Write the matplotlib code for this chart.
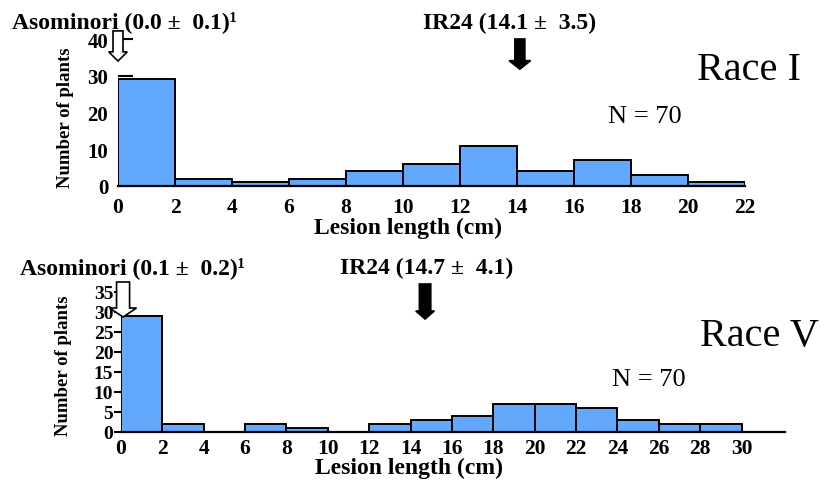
import matplotlib
matplotlib.use("Agg")
import matplotlib.pyplot as plt
from matplotlib.patches import FancyArrow

plt.rcParams['font.family'] = ['Liberation Serif', 'DejaVu Serif']

# 病斑長のヒストグラム (2 cm 幅)
bin_width = 2
race1_counts = [29, 2, 1, 2, 4, 6, 11, 4, 7, 3, 1]
race5_counts = [29, 2, 0, 2, 1, 0, 2, 3, 4, 7, 7, 6, 3, 2, 2]
race_names = ["Race I", "Race V"]
n_plants = [70, 70]

# 親品種の平均と標準偏差
asominori_mean = [0.0, 0.1]
asominori_sd = [0.1, 0.2]
ir24_mean = [14.1, 14.7]
ir24_sd = [3.5, 4.1]

bar_color = '#62A8FC'

fig = plt.figure(figsize=(8.35, 4.81), dpi=100)
ax1 = fig.add_axes([118 / 835, 1 - 187 / 481, 627 / 835, 147 / 481])
ax2 = fig.add_axes([121 / 835, 1 - 433 / 481, 664 / 835, 140 / 481])


def draw_hist(ax, counts):
    edges = [i * bin_width for i in range(len(counts))]
    ax.bar(edges, counts, width=bin_width, align='edge',
           color=bar_color, edgecolor='black', linewidth=1.4, zorder=2)
    for s in ['top', 'right', 'left']:
        ax.spines[s].set_visible(False)
    ax.spines['bottom'].set_linewidth(1.6)
    ax.tick_params(axis='x', length=0, labelsize=15.5)
    ax.tick_params(axis='y', labelsize=15, width=1.5)


def bold_ticks(ax):
    for lab in ax.get_xticklabels() + ax.get_yticklabels():
        lab.set_fontweight('bold')


def add_arrow(ax, x, tail, tip, shaft, head, head_len, fc):
    ar = FancyArrow(x, tail, 0, tip - tail, width=shaft, head_width=head,
                    head_length=head_len, length_includes_head=True,
                    fc=fc, ec='black', lw=1.2, clip_on=False, zorder=3)
    ax.add_patch(ar)


# --- 上段: Race I ---
draw_hist(ax1, race1_counts)
ax1.set_xlim(0, 22)
ax1.set_ylim(0, 40)
ax1.set_xticks(range(0, 23, 2))
ax1.set_yticks(range(0, 41, 10))
ax1.tick_params(axis='x', pad=8)
ax1.tick_params(axis='y', direction='in', length=11, pad=7)
bold_ticks(ax1)

add_arrow(ax1, asominori_mean[0], 42.2, 34.0, 0.35, 0.65, 2.5, 'white')
add_arrow(ax1, ir24_mean[0], 40.0, 31.8, 0.35, 0.75, 2.3, 'black')
ax1.text(-3.72, 44.9, f"Asominori ({asominori_mean[0]:.1f} \u00b1  {asominori_sd[0]:.1f})\u00b9",
         fontsize=17, fontweight='bold', ha='left', va='center', clip_on=False)
ax1.text(10.7, 44.4, f"IR24 ({ir24_mean[0]:.1f} \u00b1  {ir24_sd[0]:.1f})",
         fontsize=17, fontweight='bold', ha='left', va='center', clip_on=False)
ax1.text(20.3, 31.8, race_names[0], fontsize=29, ha='left', va='center', clip_on=False)
ax1.text(17.2, 19.0, f"N = {n_plants[0]}", fontsize=19, ha='left', va='center')

ax1.set_xlabel("Lesion length (cm)", fontsize=17, fontweight='bold', va='center')
ax1.xaxis.set_label_coords(0.4625, -0.285)
ax1.set_ylabel("Number of plants", fontsize=13.5, fontweight='bold', va='center')
ax1.yaxis.set_label_coords(-0.0845, 0.469)

# --- 下段: Race V ---
draw_hist(ax2, race5_counts)
ax2.set_xlim(0, 32.1)
ax2.set_ylim(0, 35)
ax2.set_xticks(range(0, 31, 2))
ax2.set_yticks(range(0, 36, 5))
ax2.tick_params(axis='x', pad=4)
ax2.tick_params(axis='y', direction='out', length=5, pad=0.5, labelsize=14)
bold_ticks(ax2)

add_arrow(ax2, asominori_mean[1], 37.5, 28.75, 0.63, 1.3, 2.25, 'white')
add_arrow(ax2, ir24_mean[1], 37.0, 28.25, 0.55, 0.9, 2.0, 'black')
ax2.text(-4.89, 41.25, f"Asominori ({asominori_mean[1]:.1f} \u00b1  {asominori_sd[1]:.1f})\u00b9",
         fontsize=17, fontweight='bold', ha='left', va='center', clip_on=False)
ax2.text(10.6, 41.25, f"IR24 ({ir24_mean[1]:.1f} \u00b1  {ir24_sd[1]:.1f})",
         fontsize=17, fontweight='bold', ha='left', va='center', clip_on=False)
ax2.text(28.0, 24.0, race_names[1], fontsize=29, ha='left', va='center', clip_on=False)
ax2.text(23.75, 13.25, f"N = {n_plants[1]}", fontsize=19, ha='left', va='center')

ax2.set_xlabel("Lesion length (cm)", fontsize=17, fontweight='bold', va='center')
ax2.xaxis.set_label_coords(0.434, -0.255)
ax2.set_ylabel("Number of plants", fontsize=13.5, fontweight='bold', va='center')
ax2.yaxis.set_label_coords(-0.0873, 0.479)

fig.savefig("out.png", dpi=100)
